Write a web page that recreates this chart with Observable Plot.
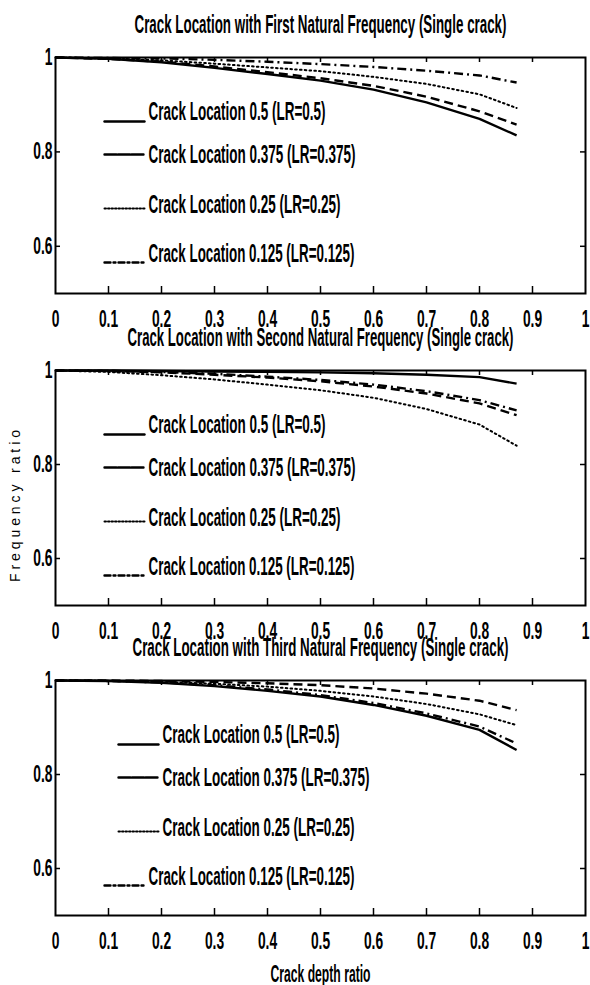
<!DOCTYPE html>
<html><head><meta charset="utf-8">
<script src="https://cdn.jsdelivr.net/npm/d3@7"></script>
<script src="https://cdn.jsdelivr.net/npm/@observablehq/plot@0.6"></script>
<style>
html,body{margin:0;padding:0;background:#fff;overflow:hidden}
#chart{position:relative;width:590px;height:985px;background:#fff}
#chart svg{position:absolute;left:0}
</style></head><body><div id="chart"></div>
<script>
// ---- data ----
const depth = [0, 0.1, 0.2, 0.3, 0.4, 0.5, 0.6, 0.7, 0.8, 0.87];

const first_LR05   = [1, 0.997, 0.990, 0.978, 0.965, 0.951, 0.932, 0.905, 0.870, 0.835];
const first_LR0375 = [1, 0.997, 0.991, 0.981, 0.969, 0.956, 0.940, 0.917, 0.886, 0.858];
const first_LR025  = [1, 0.998, 0.994, 0.987, 0.979, 0.971, 0.959, 0.944, 0.922, 0.893];
const first_LR0125 = [1, 0.999, 0.998, 0.995, 0.991, 0.986, 0.980, 0.972, 0.962, 0.947];

const second_LR05   = [1, 1.000, 0.999, 0.998, 0.997, 0.996, 0.994, 0.991, 0.986, 0.972];
const second_LR0375 = [1, 0.999, 0.996, 0.991, 0.985, 0.977, 0.966, 0.951, 0.930, 0.905];
const second_LR025  = [1, 0.997, 0.990, 0.981, 0.970, 0.958, 0.942, 0.918, 0.885, 0.840];
const second_LR0125 = [1, 0.999, 0.997, 0.993, 0.987, 0.980, 0.970, 0.956, 0.937, 0.915];

const third_LR05   = [1, 0.999, 0.995, 0.988, 0.978, 0.966, 0.948, 0.925, 0.895, 0.852];
const third_LR0375 = [1, 1.000, 0.999, 0.997, 0.994, 0.990, 0.983, 0.972, 0.957, 0.937];
const third_LR025  = [1, 0.999, 0.997, 0.993, 0.987, 0.978, 0.966, 0.950, 0.928, 0.905];
const third_LR0125 = [1, 0.999, 0.996, 0.990, 0.981, 0.969, 0.952, 0.930, 0.902, 0.866];

const titles = [
  "Crack Location with First Natural Frequency (Single crack)",
  "Crack Location with Second Natural Frequency (Single crack)",
  "Crack Location with Third Natural Frequency (Single crack)"
];
const legendLabels = [
  "Crack Location 0.5 (LR=0.5)",
  "Crack Location 0.375 (LR=0.375)",
  "Crack Location 0.25 (LR=0.25)",
  "Crack Location 0.125 (LR=0.125)"
];
const xTicks = [0, 0.1, 0.2, 0.3, 0.4, 0.5, 0.6, 0.7, 0.8, 0.9, 1];
const yTicks = [0.6, 0.8, 1];
const xLabel = "Crack depth ratio";
const yLabel = "Frequency ratio";

// ---- styling / layout ----
const panels = [
  {series: [first_LR05, first_LR0375, first_LR025, first_LR0125], top: 57, h: 236, legendX: [49, 49, 49, 49]},
  {series: [second_LR05, second_LR0375, second_LR025, second_LR0125], top: 370, h: 235, legendX: [49, 49, 49, 49]},
  {series: [third_LR05, third_LR0375, third_LR025, third_LR0125], top: 680, h: 235, legendX: [63, 63, 63, 49]}
];
const styles = [
  {dash: null, w: 2.4},
  {dash: "9,5", w: 2.4},
  {dash: "1.6,3.2", w: 2},
  {dash: "9,4,2,4", w: 2.4}
];
const legendSampleY = [64, 97, 151, 205];
const legendTextY = [62, 105, 155, 204];
const textWidths = {};
textWidths[titles[0]] = 372; textWidths[titles[1]] = 386; textWidths[titles[2]] = 376;
textWidths[legendLabels[0]] = 177; textWidths[legendLabels[1]] = 207;
textWidths[legendLabels[2]] = 192; textWidths[legendLabels[3]] = 206;
textWidths[xLabel] = 100;

const W = 590, ML = 55, MR = 5, FW = W - ML - MR, MT = 50;
const chart = document.getElementById("chart");

panels.forEach((p, i) => {
  const fx = px => px / FW;
  const fy = py => 1 - 0.5 * py / p.h;
  const MB = i === 2 ? 70 : 40;
  const marks = [];
  marks.push(Plot.frame({stroke: "black", strokeWidth: 2}));
  const inner = xTicks.slice(1, -1);
  marks.push(Plot.ruleX(inner, {x: d => d, y1: 1, y2: fy(5), stroke: "black", strokeWidth: 1.5}));
  marks.push(Plot.ruleX(inner, {x: d => d, y1: 0.5, y2: fy(p.h - 7), stroke: "black", strokeWidth: 1.5}));
  marks.push(Plot.ruleY(yTicks.slice(0, -1), {y: d => d, x1: 0, x2: fx(5), stroke: "black", strokeWidth: 1.5}));
  marks.push(Plot.ruleY(yTicks.slice(0, -1), {y: d => d, x1: 1, x2: fx(FW - 5), stroke: "black", strokeWidth: 1.5}));
  p.series.forEach((vals, k) => {
    const rows = depth.map((d, j) => ({x: d, y: vals[j]}));
    marks.push(Plot.line(rows, {x: "x", y: "y", stroke: "black", strokeWidth: styles[k].w,
      strokeDasharray: styles[k].dash, strokeLinecap: k === 2 ? "round" : "butt"}));
    const lx = p.legendX[k];
    const sy = fy(legendSampleY[k]);
    marks.push(Plot.line([[fx(lx), sy], [fx(lx + 40), sy]], {x: d => d[0], y: d => d[1], stroke: "black",
      strokeWidth: styles[k].w, strokeDasharray: k === 1 ? "12,1.5" : k === 3 ? "6,3,2,3" : k === 2 ? "1.5,2" : null}));
    marks.push(Plot.text([legendLabels[k]], {x: fx(lx + 44), y: fy(legendTextY[k]), text: d => d,
      textAnchor: "start", lineAnchor: "bottom", fontSize: 25}));
  });
  marks.push(Plot.text([titles[i]], {frameAnchor: "top", dy: -25, text: d => d, lineAnchor: "bottom", fontSize: 25}));
  if (i === 1) {
    marks.push(Plot.text([yLabel], {frameAnchor: "left", dx: -40, dy: 18, text: d => d, rotate: -90,
      lineAnchor: "middle", textAnchor: "middle", fontSize: 14, fontWeight: "normal"}));
  }
  if (i === 2) {
    marks.push(Plot.text([xLabel], {frameAnchor: "bottom", dy: 66, text: d => d, lineAnchor: "bottom", fontSize: 24}));
  }
  const svg = Plot.plot({
    width: W, height: MT + p.h + MB,
    marginLeft: ML, marginRight: MR, marginTop: MT, marginBottom: MB,
    style: {background: "transparent", overflow: "visible", fontFamily: "'Liberation Sans', Arial, sans-serif",
      fontSize: "23px", fontWeight: "bold", color: "black"},
    x: {domain: [0, 1], ticks: xTicks, tickSize: 0, tickPadding: 17, tickFormat: d => String(+d.toFixed(2)), label: null},
    y: {domain: [0.5, 1], ticks: yTicks, tickSize: 0, tickPadding: 3, tickFormat: d => String(+d.toFixed(2)), label: null},
    marks
  });
  svg.style.top = (p.top - MT) + "px";
  chart.appendChild(svg);
  svg.querySelectorAll("text").forEach(t => {
    const s = t.textContent;
    if (s === yLabel) {
      t.setAttribute("textLength", 152); t.setAttribute("lengthAdjust", "spacing");
    } else if (textWidths[s]) {
      t.setAttribute("textLength", textWidths[s]); t.setAttribute("lengthAdjust", "spacingAndGlyphs");
    } else {
      const len = t.getComputedTextLength();
      if (len > 0) { t.setAttribute("textLength", (len * 0.6).toFixed(1)); t.setAttribute("lengthAdjust", "spacingAndGlyphs"); }
    }
  });
});
</script></body></html>
